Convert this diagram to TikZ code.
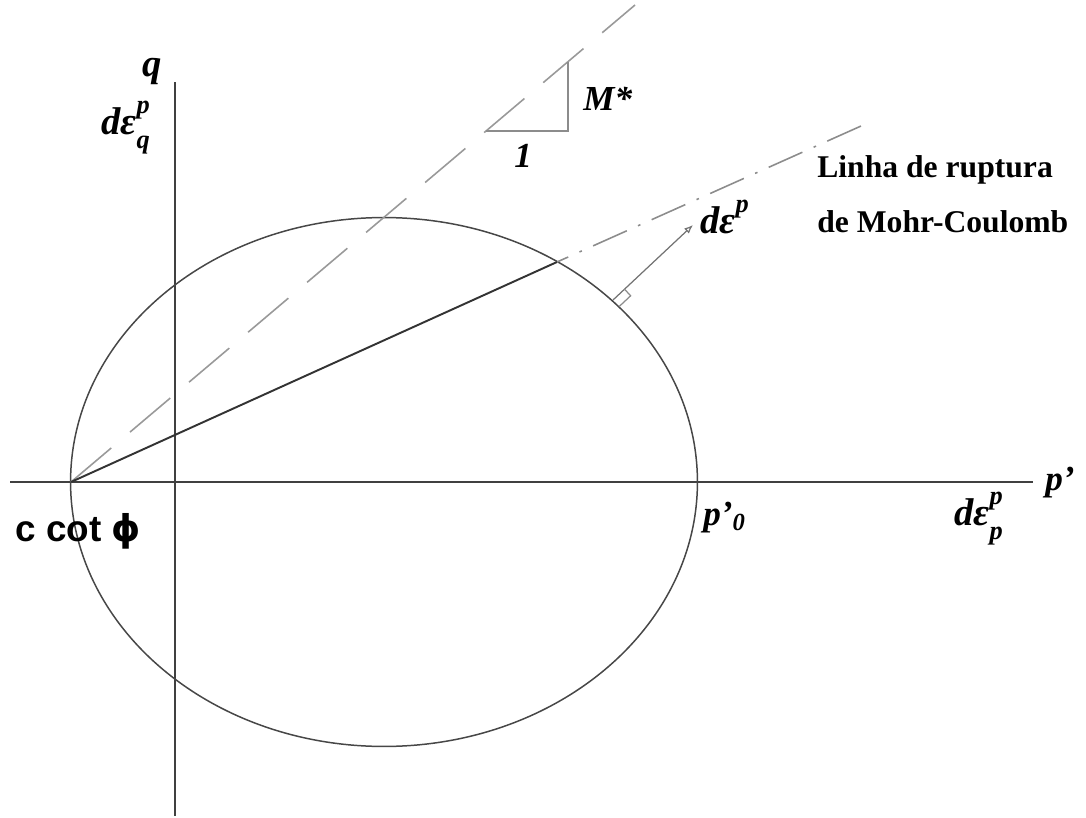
\documentclass[tikz,border=0pt]{standalone}
\usepackage{amsmath}
\usepackage{fontspec}
\setmainfont{Liberation Serif}
\newfontfamily\cotfont{Liberation Sans}
\newfontfamily\phifont{DejaVu Sans}
\newcommand{\scr}{\fontsize{15}{15}\selectfont}
\newcommand{\deps}[2]{dε\makebox[0pt][l]{\raisebox{0.52em}{\scr #1}}\raisebox{-0.38em}{\scr #2}}
\newcommand{\depsup}[1]{dε\raisebox{0.52em}{\scr #1}}
\usetikzlibrary{arrows.meta,calc}
\tikzset{
  axis/.style={draw=black!75, line width=1.1pt},
  curve/.style={draw=black!72, line width=0.85pt},
  solidline/.style={draw=black!80, line width=1.1pt},
  mline/.style={draw=black!40, line width=0.9pt, dash pattern=on 30pt off 14pt},
  mcline/.style={draw=black!45, line width=0.9pt, dash pattern=on 21pt off 7pt on 1.5pt off 7pt, dash phase=14pt},
  thinline/.style={draw=black!45, line width=0.7pt},
  normalarrow/.style={draw=black!55, line width=0.7pt, -{Latex[open,length=5pt,width=4pt]}},
  mathlbl/.style={inner sep=0pt, font=\fontsize{22}{24}\selectfont\bfseries\itshape},
  romlbl/.style={inner sep=0pt, font=\fontsize{20}{22}\selectfont\bfseries\itshape},
  txtlbl/.style={inner sep=0pt, font=\fontsize{18}{20}\selectfont\bfseries},
}
\begin{document}
\begin{tikzpicture}[x=0.02cm,y=-0.02cm]
\useasboundingbox (0,0) rectangle (1086,818);
% coordinates
\coordinate (O) at (71,482);
\coordinate (T) at (557,262);
\coordinate (MCend) at (870,122);
\coordinate (Mend) at (635,5);
\coordinate (F) at (613,300);
\coordinate (E) at (693,225);
\coordinate (Hl) at (10,482);
\coordinate (Hr) at (1033,482);
\coordinate (Vt) at (175,82);
\coordinate (Vb) at (175,816);
\coordinate (Ta) at (486,131);
\coordinate (Tb) at (568,131);
\coordinate (Tc) at (568,62);
% axes
\draw[axis] (Hl) -- (Hr);
\draw[axis] (Vt) -- (Vb);
% ellipse
\draw[curve] (384,482) ellipse [x radius=6.27cm, y radius=5.29cm];
% lines
\draw[mline] (O) -- (Mend);
\draw[solidline] (O) -- (T);
\draw[mcline] (T) -- (MCend);
% slope triangle
\draw[thinline] (Ta) -- (Tb) -- (Tc);
% normal vector with right-angle mark
\draw[normalarrow] (F) -- (E);
\draw[thinline] ($(F)!9pt!(E)$) -- ($(F)!9pt!(E) + (6.1,6.6)$) -- ($(F) + (6.1,6.6)$);
% labels
\node[mathlbl, anchor=base west] (q) at (142,76) {q};
\node[mathlbl, anchor=base west] (deq) at (101,134) {\deps{p}{q}};
\node[romlbl, anchor=base west] (M) at (583,110) {M*};
\node[romlbl, anchor=base west] (one) at (514,167) {1};
\node[mathlbl, anchor=base west] (dep) at (700,233) {\depsup{p}};
\node[txtlbl, anchor=base west] (l1) at (817,177) {Linha de ruptura};
\node[txtlbl, anchor=base west] (l2) at (817,232) {de Mohr-Coulomb};
\node[romlbl, anchor=base west] (pp) at (1045,490) {p'};
\node[romlbl, anchor=base west] (p0) at (703,525) {p'\textsubscript{0}};
\node[mathlbl, anchor=base west] (dpp) at (954,525) {\deps{p}{p}};
\node[inner sep=0pt, anchor=base west, font=\fontsize{21}{23}\selectfont\cotfont\bfseries] (cot) at (15,541) {c cot {\phifont ϕ}};
\end{tikzpicture}
\end{document}
